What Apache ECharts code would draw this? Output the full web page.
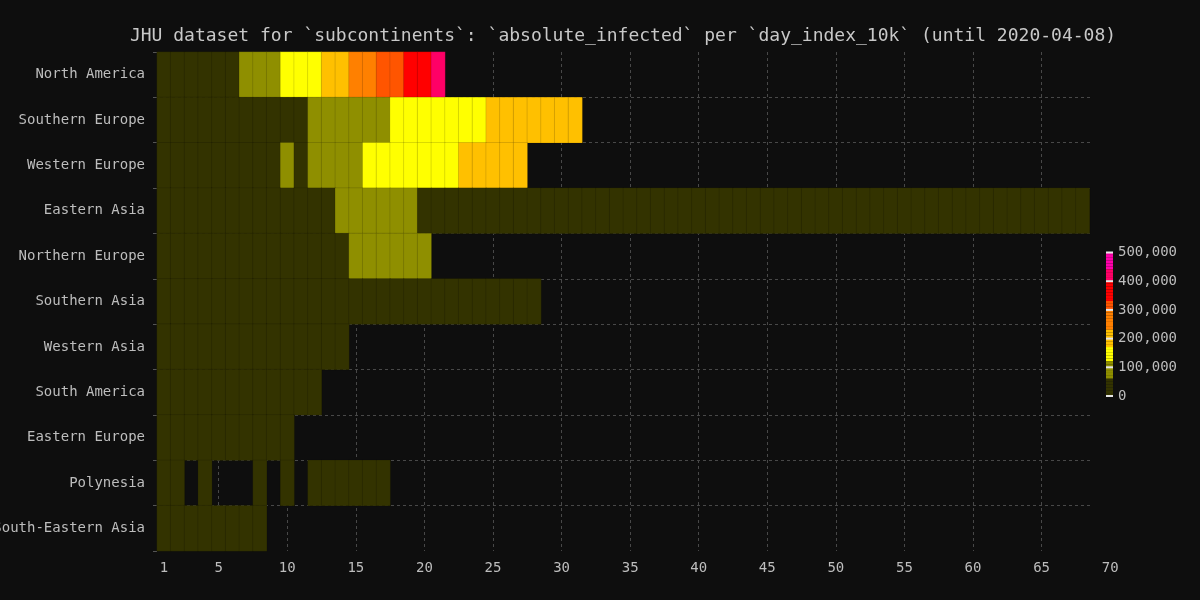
<!DOCTYPE html>
<html>
<head>
<meta charset="utf-8">
<script src="https://cdn.jsdelivr.net/npm/echarts@6/dist/echarts.min.js"></script>
<style>
html,body{margin:0;padding:0;background:#0e0e0e;}
#chart{width:1200px;height:600px;}
</style>
</head>
<body>
<div id="chart"></div>
<script>
// ---- data ----
const subcontinents = ['North America','Southern Europe','Western Europe','Eastern Asia','Northern Europe','Southern Asia','Western Asia','South America','Eastern Europe','Polynesia','South-Eastern Asia'];
const days = ['1','2','3','4','5','6','7','8','9','10','11','12','13','14','15','16','17','18','19','20','21','22','23','24','25','26','27','28','29','30','31','32','33','34','35','36','37','38','39','40','41','42','43','44','45','46','47','48','49','50','51','52','53','54','55','56','57','58','59','60','61','62','63','64','65','66','67','68','69','70'];

const northAmerica = [14000,19000,25000,33000,42000,52000,64000,80000,98000,121000,139000,160000,185000,212000,240000,272000,305000,326000,365000,396000,430000];
const southernEurope = [10500,12800,15500,18600,22000,26000,30500,35500,41000,47500,55000,63000,72000,81000,91000,101000,112000,122000,131000,139000,146000,153000,160000,167000,173000,179000,185000,190000,195000,199000,203000];
const westernEurope = [11000,13500,17000,21000,26000,32000,39000,47000,55000,62000,58000,68000,82000,97000,112000,124000,133000,141000,149000,155000,161000,167000,174000,182000,190000,197000,204000];
const easternAsia = [11800,14400,17100,19700,23700,27600,30800,33700,36800,39400,41800,44000,46500,61000,62500,63200,63000,62000,60500,58000,57000,55500,53800,51500,49800,47500,45000,42500,40000,38000,36500,35000,33500,32000,30500,29000,27500,26000,24500,23000,21500,20000,19000,18000,17000,16000,15000,14500,14000,13500,13000,12500,12000,12000,12500,13000,13000,13500,14000,14000,14500,15000,15000,15500,15500,16000,16000,16500];
const northernEurope = [10400,12500,15000,17800,21000,24500,28000,31500,35000,39000,43000,47500,52000,57000,62000,68000,74000,80000,86000,92000];
const southernAsia = [10200,11300,12600,13900,15400,16800,18300,19800,21300,22700,24200,25500,26900,28200,29600,31000,32300,33800,35400,37000,38800,40500,42300,44000,45800,47600,49500,51500];
const westernAsia = [10800,13200,15800,18400,21000,23600,26300,29000,31800,34600,37500,40400,43300,46200];
const southAmerica = [10600,12800,15200,17600,20000,22500,25000,27800,30600,33500,36500,39600];
const easternEurope = [10300,12000,13900,15800,17900,20000,22200,24500,26900,29400];
const polynesia = [10100,10300,null,10600,null,null,null,11200,null,11500,null,11900,12100,12300,12500,12700,12900];
const southEasternAsia = [10200,11400,12700,14100,15600,17200,18900,20700];

const rowValues = [northAmerica, southernEurope, westernEurope, easternAsia, northernEurope, southernAsia, westernAsia, southAmerica, easternEurope, polynesia, southEasternAsia];

// colour bands of the scale
const bandBounds = [0, 60000, 120000, 170000, 230000, 300000, 330000, 400000, 440000, 500000];
const bandColors = ['#333300','#8f8f00','#ffff00','#ffc000','#ff8000','#ff5500','#ff0000','#ff0066','#ff00aa'];
const legendTicks = [0, 100000, 200000, 300000, 400000, 500000];
const pieceStep = 10000;

// ---- build ----
const heatData = [];
rowValues.forEach((vals, y) => {
  vals.forEach((v, x) => { if (v != null) heatData.push([x, y, v]); });
});

function bandColor(v) {
  for (let i = bandBounds.length - 2; i >= 0; i--) if (v >= bandBounds[i]) return bandColors[i];
  return bandColors[0];
}
const pieces = [];
for (let v = 0; v < 500000; v += pieceStep) {
  const p = {gte: v, color: bandColor(v)};
  if (v + pieceStep >= 500000) p.lte = 500000; else p.lt = v + pieceStep;
  pieces.push(p);
}
const tickPieces = legendTicks.map(v => ({value: v, label: v.toLocaleString('en-US'), color: '#e6e6e6'}));

const MONO = '"DejaVu Sans Mono", "Liberation Mono", monospace';
const labelColor = '#bdbdbd';

const chart = echarts.init(document.getElementById('chart'), null, {renderer: 'canvas'});
chart.setOption({
  backgroundColor: '#0e0e0e',
  animation: false,
  title: {
    text: 'JHU dataset for `subcontinents`: `absolute_infected` per `day_index_10k` (until 2020-04-08)',
    left: 618, top: 22, textAlign: 'center',
    textStyle: {color: '#c8c8c8', fontFamily: MONO, fontSize: 18, fontWeight: 'normal'}
  },
  grid: [
    {left: 157, right: 83, top: 52, bottom: 49, outerBoundsMode: 'none', containLabel: false},
    {left: 157, right: 107, top: 52, bottom: 49, outerBoundsMode: 'none', containLabel: false}
  ],
  xAxis: [
    {
      type: 'category', data: days, gridIndex: 0,
      axisLine: {show: false}, axisTick: {show: false},
      axisLabel: {color: labelColor, fontFamily: MONO, fontSize: 14, margin: 10,
        interval: (i) => i === 0 || (i + 1) % 5 === 0},
      splitLine: {show: true, alignWithLabel: true,
        interval: (i) => (i + 1) % 5 === 0 && i < 68,
        lineStyle: {color: '#484848', type: [3, 3], width: 1}}
    },
    {type: 'value', gridIndex: 1, show: false, min: 0, max: 1}
  ],
  yAxis: [
    {
      type: 'category', data: subcontinents, inverse: true, gridIndex: 0,
      axisLine: {show: false},
      axisTick: {show: true, length: 4, lineStyle: {color: '#555'}},
      axisLabel: {color: labelColor, fontFamily: MONO, fontSize: 14, margin: 12},
      splitLine: {show: false}
    },
    {
      type: 'category', data: subcontinents, inverse: true, gridIndex: 1,
      axisLine: {show: false}, axisTick: {show: false}, axisLabel: {show: false},
      splitLine: {show: true, showMinLine: false, showMaxLine: false,
        lineStyle: {color: '#484848', type: [3, 3], width: 1}}
    }
  ],
  visualMap: [
    {
      type: 'piecewise', seriesIndex: 0, pieces: pieces,
      orient: 'vertical', left: 1106, top: 252, padding: 0,
      itemWidth: 7, itemHeight: 144 / 50, itemGap: 0, itemSymbol: 'rect',
      showLabel: false, selectedMode: false, hoverLink: false
    },
    {
      type: 'piecewise', seriesIndex: [], pieces: tickPieces,
      orient: 'vertical', left: 1106, top: 245.5, padding: 0, align: 'left',
      itemWidth: 7, itemHeight: 2, itemGap: 14.7, itemSymbol: 'rect', textGap: 5,
      selectedMode: false, hoverLink: false,
      textStyle: {color: labelColor, fontFamily: MONO, fontSize: 14}
    }
  ],
  series: [{
    type: 'heatmap', xAxisIndex: 0, yAxisIndex: 0, data: heatData,
    itemStyle: {borderColor: 'rgba(0,0,0,0.12)', borderWidth: 1},
    emphasis: {disabled: true}
  }]
});
</script>
</body>
</html>
